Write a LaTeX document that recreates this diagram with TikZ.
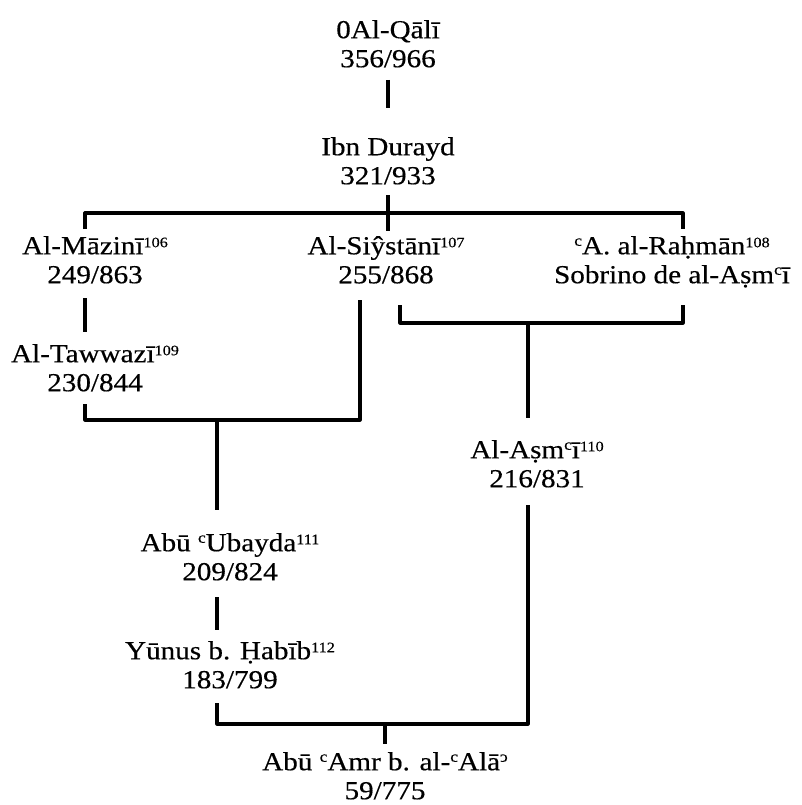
\documentclass[tikz,border=0pt]{standalone}
\usepackage{fontspec}
\usepackage{graphicx}
\setmainfont{Liberation Serif}[FakeStretch=1.12,FakeBold=0.4]
\newcommand\ayn{\raisebox{8.5pt}{\fontsize{15.5}{15.5}\selectfont c}}
\newcommand\hmz{\raisebox{8.5pt}{\fontsize{15.5}{15.5}\selectfont\reflectbox{c}}}
\newcommand\fnum[1]{\raisebox{7pt}{\fontsize{14.5}{14.5}\selectfont #1}}
\begin{document}
\begin{tikzpicture}[x=1pt,y=-1pt,
  person/.style={anchor=north, inner sep=0pt, align=center, font=\fontsize{26}{29}\selectfont},
  link/.style={line width=3.2pt, line join=round, line cap=butt}]
\useasboundingbox[fill=white] (0,0) rectangle (802,805);

% people
\node[person] (qali)   at (388,20)  {0Al-Qālī\\356/966};
\node[person] (durayd) at (388,137) {Ibn Durayd\\321/933};
\node[person] (mazini) at (95,236)  {Al-Māzinī\fnum{106}\\249/863};
\node[person] (siy)    at (386,236) {Al-Siŷstānī\fnum{107}\\255/868};
\node[person] (rahman) at (672,236) {\ayn A. al-Raḥmān\fnum{108}\\Sobrino de al-Aṣm\ayn ī};
\node[person] (tawwazi) at (95,344) {Al-Tawwazī\fnum{109}\\230/844};
\node[person] (asmai)  at (537,440) {Al-Aṣm\ayn ī\fnum{110}\\216/831};
\node[person] (ubayda) at (230,533) {Abū \ayn Ubayda\fnum{111}\\209/824};
\node[person] (yunus)  at (230,641) {Yūnus b. Ḥabīb\fnum{112}\\183/799};
\node[person] (amr)    at (385,752) {Abū \ayn Amr b. al-\ayn Alā\hmz\\59/775};

% connector points
\coordinate (qd1) at (388,80);   \coordinate (qd2) at (388,108);
\coordinate (dt1) at (388,195);  \coordinate (dt2) at (388,231);
\coordinate (bl)  at (85,229);   \coordinate (blc) at (85,213);
\coordinate (brc) at (683,213);  \coordinate (br)  at (683,229);
\coordinate (mt1) at (85,298);   \coordinate (mt2) at (85,332);
\coordinate (tw1) at (85,404);   \coordinate (twc) at (85,420);
\coordinate (sy1) at (360,300);  \coordinate (syc) at (360,420);
\coordinate (ub0) at (217,420);  \coordinate (ub1) at (217,510);
\coordinate (sr1) at (400,305);  \coordinate (src) at (400,323);
\coordinate (rr1) at (683,305);  \coordinate (rrc) at (683,323);
\coordinate (as0) at (528,323);  \coordinate (as1) at (528,418);
\coordinate (uy1) at (217,597);  \coordinate (uy2) at (217,630);
\coordinate (yn1) at (217,703);  \coordinate (ync) at (217,724);
\coordinate (asb) at (528,505);  \coordinate (asc) at (528,724);
\coordinate (am0) at (385,724);  \coordinate (am1) at (385,744);

% connectors
\draw[link] (qd1) -- (qd2);
\draw[link] (dt1) -- (dt2);
\draw[link] (bl) -- (blc) -- (brc) -- (br);
\draw[link] (mt1) -- (mt2);
\draw[link] (tw1) -- (twc) -- (syc) -- (sy1);
\draw[link] (ub0) -- (ub1);
\draw[link] (sr1) -- (src) -- (rrc) -- (rr1);
\draw[link] (as0) -- (as1);
\draw[link] (uy1) -- (uy2);
\draw[link] (yn1) -- (ync) -- (asc) -- (asb);
\draw[link] (am0) -- (am1);
\end{tikzpicture}
\end{document}
